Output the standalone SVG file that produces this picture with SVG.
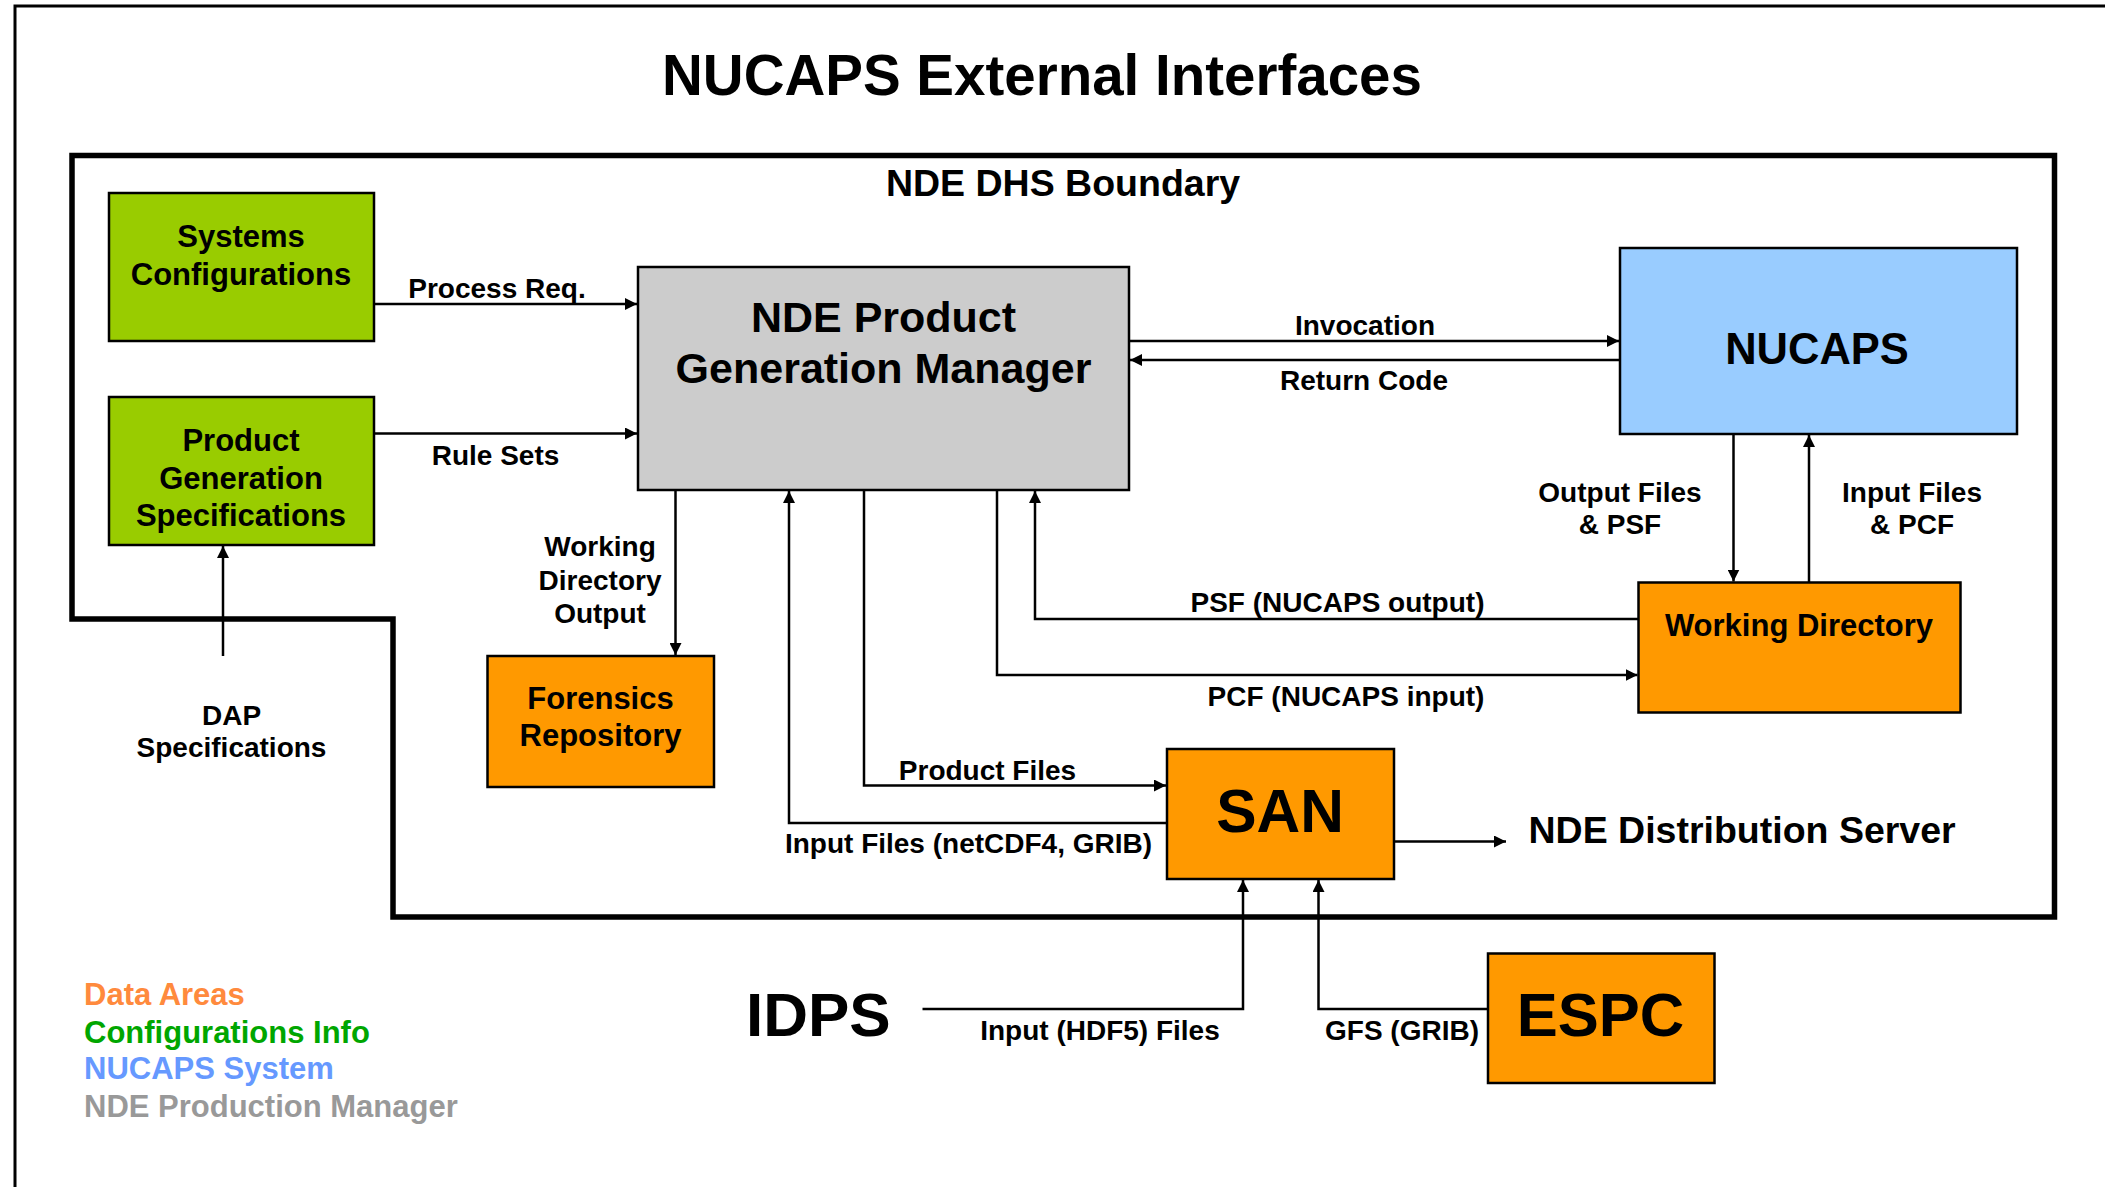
<svg xmlns="http://www.w3.org/2000/svg" width="2105" height="1187" viewBox="0 0 2105 1187">
<defs>
<marker id="ah" markerUnits="userSpaceOnUse" markerWidth="13" markerHeight="12" refX="12" refY="6" orient="auto">
<path d="M0,0 L12,6 L0,12 Z" fill="#000"/>
</marker>
<style>
text{font-family:"Liberation Sans",Arial,sans-serif;font-weight:bold;fill:#000}
.box{stroke:#000;stroke-width:2.5}
.green{fill:#99CC00}
.orange{fill:#FF9900}
.blue{fill:#99CCFF}
.grey{fill:#CCCCCC}
.c{text-anchor:middle}
.lbl{font-size:28px}
.bt{font-size:31px}
.conn path{fill:none;stroke:#000;stroke-width:2.5;marker-end:url(#ah)}
</style>
</defs>
<rect width="2105" height="1187" fill="#fff"/>
<path d="M15,1190 V6 H2110" fill="none" stroke="#000" stroke-width="3"/>
<text x="1042" y="95" class="c" font-size="56.5">NUCAPS External Interfaces</text>
<g id="boundary">
<path d="M72,155.5 H2054.5 V917 H393 V619 H72 Z" fill="none" stroke="#000" stroke-width="5.5"/>
<text x="1063" y="196" class="c" font-size="37.5">NDE DHS Boundary</text>
</g>
<g id="systems-configurations">
<rect x="109" y="193" width="265" height="148" class="box green"/>
<text x="241" y="247" class="c bt">Systems</text>
<text x="241" y="285" class="c bt">Configurations</text>
</g>
<g id="product-generation-specifications">
<rect x="109" y="397" width="265" height="148" class="box green"/>
<text x="241" y="451" class="c bt">Product</text>
<text x="241" y="489" class="c bt">Generation</text>
<text x="241" y="526" class="c bt">Specifications</text>
</g>
<g id="pgm">
<rect x="638" y="267" width="491" height="223" class="box grey"/>
<text x="883.5" y="332" class="c" font-size="43">NDE Product</text>
<text x="883.5" y="383" class="c" font-size="43">Generation Manager</text>
</g>
<g id="nucaps">
<rect x="1620" y="248" width="397" height="186" class="box blue"/>
<text x="1817" y="364" class="c" font-size="43.5">NUCAPS</text>
</g>
<g id="working-directory">
<rect x="1638.5" y="582.5" width="322" height="130" class="box orange"/>
<text x="1799" y="636" class="c bt">Working Directory</text>
</g>
<g id="forensics-repository">
<rect x="487.5" y="656" width="226.5" height="131" class="box orange"/>
<text x="600.5" y="709" class="c bt">Forensics</text>
<text x="600.5" y="746" class="c bt">Repository</text>
</g>
<g id="san">
<rect x="1167" y="749" width="227" height="130" class="box orange"/>
<text x="1280" y="832" class="c" font-size="60.5">SAN</text>
</g>
<g id="espc">
<rect x="1488" y="953.5" width="226.5" height="129.5" class="box orange"/>
<text x="1600.5" y="1036" class="c" font-size="61.5">ESPC</text>
</g>
<g id="idps">
<text x="746" y="1035.5" font-size="62">IDPS</text>
</g>
<g id="nde-distribution-server">
<text x="1528.5" y="843" font-size="37.5">NDE Distribution Server</text>
</g>
<g id="dap-specifications">
<text x="231.5" y="725" class="c lbl">DAP</text>
<text x="231.5" y="757" class="c lbl">Specifications</text>
</g>
<g class="conn" id="connectors">
<path d="M374,304 H637"/>
<path d="M374,433.5 H637"/>
<path d="M1129,341 H1619"/>
<path d="M1620,360 H1130"/>
<path d="M1733.5,434 V581.5"/>
<path d="M1809,582.5 V435"/>
<path d="M675.5,490 V655"/>
<path d="M1167,823 H789 V491"/>
<path d="M864,490 V785.5 H1166"/>
<path d="M997,490 V675 H1637.5"/>
<path d="M1638.5,619 H1035 V491"/>
<path d="M1394,841.5 H1506"/>
<path d="M922.5,1009 H1243 V880"/>
<path d="M1488,1009 H1318.5 V880"/>
<path d="M223,656 V546"/>
</g>
<g id="connector-labels">
<text x="497" y="298" class="c lbl">Process Req.</text>
<text x="495.5" y="465" class="c lbl">Rule Sets</text>
<text x="1365" y="335" class="c lbl">Invocation</text>
<text x="1364" y="390" class="c lbl">Return Code</text>
<text x="1620" y="502" class="c lbl">Output Files</text>
<text x="1620" y="534" class="c lbl">&amp; PSF</text>
<text x="1912" y="502" class="c lbl">Input Files</text>
<text x="1912" y="534" class="c lbl">&amp; PCF</text>
<text x="600" y="556" class="c lbl">Working</text>
<text x="600" y="590" class="c lbl">Directory</text>
<text x="600" y="623" class="c lbl">Output</text>
<text x="1337.5" y="612" class="c lbl">PSF (NUCAPS output)</text>
<text x="1346" y="705.5" class="c lbl">PCF (NUCAPS input)</text>
<text x="987.5" y="779.5" class="c lbl">Product Files</text>
<text x="968.5" y="852.5" class="c lbl">Input Files (netCDF4, GRIB)</text>
<text x="1100" y="1039.5" class="c lbl">Input (HDF5) Files</text>
<text x="1402" y="1039.5" class="c lbl">GFS (GRIB)</text>
</g>
<g id="legend" font-size="31">
<text x="84" y="1005" style="fill:#FF8A3D">Data Areas</text>
<text x="84" y="1042.5" style="fill:#00A600">Configurations Info</text>
<text x="84" y="1079" style="fill:#6699FF">NUCAPS System</text>
<text x="84" y="1116.5" style="fill:#999999">NDE Production Manager</text>
</g>
</svg>
